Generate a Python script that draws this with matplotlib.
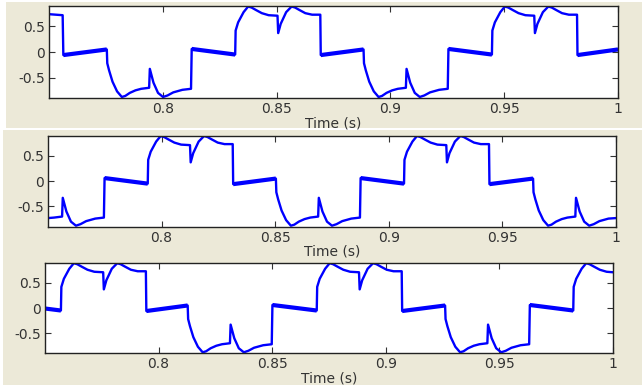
import matplotlib
matplotlib.use("Agg")
import matplotlib.pyplot as plt
from matplotlib.patches import Rectangle
import numpy as np

plt.rcParams['font.family'] = ['DejaVu Sans']

# ---------------- data ----------------
t1 = [0.7500, 0.7530, 0.7560, 0.7563,
      0.7754, 0.7756, 0.7764, 0.7779, 0.7799, 0.7820, 0.7835, 0.7855, 0.7880, 0.7905,
      0.7940, 0.7943, 0.7959, 0.7979, 0.8001, 0.8021, 0.8046, 0.8086, 0.8124, 0.8127,
      0.8318, 0.8320, 0.8331, 0.8355, 0.8375, 0.8390, 0.8410, 0.8435, 0.8465, 0.8504,
      0.8507, 0.8518, 0.8542, 0.8566, 0.8581, 0.8601, 0.8626, 0.8656, 0.8692, 0.8694,
      0.8882, 0.8884, 0.8892, 0.8907, 0.8927, 0.8948, 0.8963, 0.8983, 0.9008, 0.9033,
      0.9068, 0.9071, 0.9087, 0.9107, 0.9129, 0.9149, 0.9174, 0.9214, 0.9252, 0.9255,
      0.9446, 0.9448, 0.9459, 0.9483, 0.9503, 0.9518, 0.9538, 0.9563, 0.9593, 0.9632,
      0.9635, 0.9646, 0.9670, 0.9694, 0.9709, 0.9729, 0.9754, 0.9784, 0.9820, 0.9822,
      1.0000]
v1 = [0.74, 0.73, 0.72, -0.06,
      0.05, -0.22, -0.36, -0.58, -0.77, -0.88, -0.86, -0.80, -0.75, -0.72,
      -0.70, -0.33, -0.60, -0.80, -0.88, -0.85, -0.79, -0.74, -0.72, 0.06,
      -0.05, 0.42, 0.58, 0.78, 0.89, 0.87, 0.82, 0.76, 0.72, 0.71,
      0.37, 0.55, 0.78, 0.89, 0.87, 0.82, 0.76, 0.73, 0.73, -0.06,
      0.05, -0.22, -0.36, -0.58, -0.77, -0.88, -0.86, -0.80, -0.75, -0.72,
      -0.70, -0.33, -0.60, -0.80, -0.88, -0.85, -0.79, -0.74, -0.72, 0.06,
      -0.05, 0.42, 0.58, 0.78, 0.89, 0.87, 0.82, 0.76, 0.72, 0.71,
      0.37, 0.55, 0.78, 0.89, 0.87, 0.82, 0.76, 0.73, 0.73, -0.06,
      0.05]

t2 = [0.7500, 0.7527, 0.7562, 0.7565, 0.7581, 0.7601, 0.7623, 0.7643, 0.7668, 0.7708,
      0.7746, 0.7749,
      0.7939, 0.7941, 0.7952, 0.7976, 0.7996, 0.8011, 0.8031, 0.8056, 0.8086, 0.8125,
      0.8128, 0.8139, 0.8163, 0.8187, 0.8202, 0.8222, 0.8247, 0.8277, 0.8313, 0.8315,
      0.8503, 0.8505, 0.8513, 0.8528, 0.8548, 0.8569, 0.8584, 0.8604, 0.8629, 0.8654,
      0.8689, 0.8692, 0.8708, 0.8728, 0.8750, 0.8770, 0.8795, 0.8835, 0.8873, 0.8876,
      0.9067, 0.9069, 0.9080, 0.9104, 0.9124, 0.9139, 0.9159, 0.9184, 0.9214, 0.9253,
      0.9256, 0.9267, 0.9291, 0.9315, 0.9330, 0.9350, 0.9375, 0.9405, 0.9441, 0.9443,
      0.9635, 0.9637, 0.9645, 0.9660, 0.9680, 0.9701, 0.9716, 0.9736, 0.9761, 0.9786,
      0.9821, 0.9824, 0.9840, 0.9860, 0.9882, 0.9902, 0.9927, 0.9967, 1.0000]
v2 = [-0.73, -0.72, -0.70, -0.33, -0.60, -0.80, -0.88, -0.85, -0.79, -0.74,
      -0.72, 0.06,
      -0.05, 0.42, 0.58, 0.78, 0.89, 0.87, 0.82, 0.76, 0.72, 0.71,
      0.37, 0.55, 0.78, 0.89, 0.87, 0.82, 0.76, 0.73, 0.73, -0.06,
      0.05, -0.22, -0.36, -0.58, -0.77, -0.88, -0.86, -0.80, -0.75, -0.72,
      -0.70, -0.33, -0.60, -0.80, -0.88, -0.85, -0.79, -0.74, -0.72, 0.06,
      -0.05, 0.42, 0.58, 0.78, 0.89, 0.87, 0.82, 0.76, 0.72, 0.71,
      0.37, 0.55, 0.78, 0.89, 0.87, 0.82, 0.76, 0.73, 0.73, -0.06,
      0.05, -0.22, -0.36, -0.58, -0.77, -0.88, -0.86, -0.80, -0.75, -0.72,
      -0.70, -0.33, -0.60, -0.80, -0.88, -0.85, -0.79, -0.74, -0.73]

t3 = [0.7500,
      0.7570, 0.7572, 0.7583, 0.7607, 0.7627, 0.7642, 0.7662, 0.7687, 0.7717, 0.7756,
      0.7759, 0.7770, 0.7794, 0.7818, 0.7833, 0.7853, 0.7878, 0.7908, 0.7944, 0.7946,
      0.8128, 0.8130, 0.8138, 0.8153, 0.8173, 0.8194, 0.8209, 0.8229, 0.8254, 0.8279,
      0.8314, 0.8317, 0.8333, 0.8353, 0.8375, 0.8395, 0.8420, 0.8460, 0.8498, 0.8501,
      0.8696, 0.8698, 0.8709, 0.8733, 0.8753, 0.8768, 0.8788, 0.8813, 0.8843, 0.8882,
      0.8885, 0.8896, 0.8920, 0.8944, 0.8959, 0.8979, 0.9004, 0.9034, 0.9070, 0.9072,
      0.9261, 0.9263, 0.9271, 0.9286, 0.9306, 0.9327, 0.9342, 0.9362, 0.9387, 0.9412,
      0.9447, 0.9450, 0.9466, 0.9486, 0.9508, 0.9528, 0.9553, 0.9593, 0.9631, 0.9634,
      0.9825, 0.9827, 0.9838, 0.9862, 0.9882, 0.9897, 0.9917, 0.9942, 0.9972, 1.0000]
v3 = [-0.01,
      -0.05, 0.42, 0.58, 0.78, 0.89, 0.87, 0.82, 0.76, 0.72, 0.71,
      0.37, 0.55, 0.78, 0.89, 0.87, 0.82, 0.76, 0.73, 0.73, -0.06,
      0.05, -0.22, -0.36, -0.58, -0.77, -0.88, -0.86, -0.80, -0.75, -0.72,
      -0.70, -0.33, -0.60, -0.80, -0.88, -0.85, -0.79, -0.74, -0.72, 0.06,
      -0.05, 0.42, 0.58, 0.78, 0.89, 0.87, 0.82, 0.76, 0.72, 0.71,
      0.37, 0.55, 0.78, 0.89, 0.87, 0.82, 0.76, 0.73, 0.73, -0.06,
      0.05, -0.22, -0.36, -0.58, -0.77, -0.88, -0.86, -0.80, -0.75, -0.72,
      -0.70, -0.33, -0.60, -0.80, -0.88, -0.85, -0.79, -0.74, -0.72, 0.06,
      -0.05, 0.42, 0.58, 0.78, 0.89, 0.87, 0.82, 0.76, 0.72, 0.71]

x_ticks = [0.8, 0.85, 0.9, 0.95, 1.0]
x_tick_labels = ['0.8', '0.85', '0.9', '0.95', '1']
y_ticks = [-0.5, 0, 0.5]
y_tick_labels = ['-0.5', '0', '0.5']
x_label = 'Time (s)'

series = [(t1, v1), (t2, v2), (t3, v3)]

# ---------------- layout ----------------
W, H = 642, 385
fig = plt.figure(figsize=(W / 100, H / 100), dpi=100)
fig.patch.set_facecolor('white')

beige = '#ECE9D8'
# background panels (screenshot style)
fig.add_artist(Rectangle((6 / W, 1 - 127.7 / H), 1, 125.7 / H,
                         transform=fig.transFigure, facecolor=beige,
                         edgecolor='none', zorder=-10))
fig.add_artist(Rectangle((3 / W, 0), 1, 1 - 130 / H,
                         transform=fig.transFigure, facecolor=beige,
                         edgecolor='none', zorder=-10))

boxes = [(49, 618, 6, 98), (48, 616, 135.5, 226.7), (45, 613, 262.7, 353.3)]

for (l, r, top, bot), (tt, vv) in zip(boxes, series):
    ax = fig.add_axes([l / W, 1 - bot / H, (r - l) / W, (bot - top) / H])
    ax.set_facecolor('white')
    tt = np.asarray(tt)
    vv = np.asarray(vv)
    ax.plot(tt, vv, color='#0000FF', lw=1.7, solid_joinstyle='round')
    # thicker band on the noisy near-zero plateaus
    for i in range(len(tt) - 1):
        if abs(vv[i]) < 0.1 and abs(vv[i + 1]) < 0.1:
            ax.plot(tt[i:i + 2], vv[i:i + 2], color='#0000FF', lw=3.0,
                    solid_capstyle='butt')
    ax.set_xlim(0.75, 1.0)
    ax.set_ylim(-0.9, 0.9)
    ax.set_xticks(x_ticks)
    ax.set_xticklabels(x_tick_labels)
    ax.set_yticks(y_ticks)
    ax.set_yticklabels(y_tick_labels)
    ax.tick_params(direction='in', length=4, width=0.8, top=True, right=True,
                   labelsize=10, colors='#333333', pad=3)
    for s in ax.spines.values():
        s.set_color('#222222')
        s.set_linewidth(1.0)
    ax.set_xlabel(x_label, fontsize=10, labelpad=0, color='#333333')

fig.savefig('out.png', dpi=100, facecolor=fig.get_facecolor())
